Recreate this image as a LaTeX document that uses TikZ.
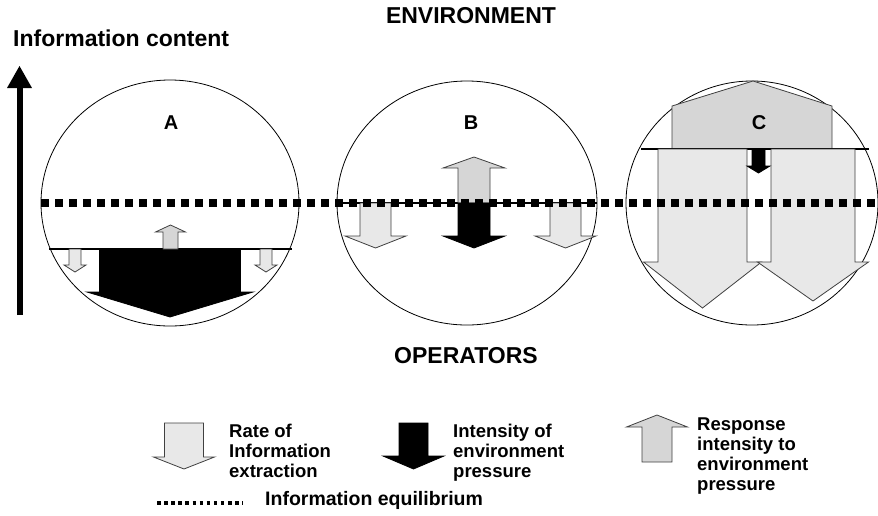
\documentclass[tikz,border=0pt]{standalone}
\usepackage{fontspec}
\setmainfont{Liberation Sans}
\usetikzlibrary{positioning}

% block arrow: style, centre x, base y, shaft half width, shaft end y, head half width, tip y
\newcommand{\blockarrow}[7]{%
  \draw[#1] ({#2-#4},#3) -- ({#2-#4},#5) -- ({#2-#6},#5) -- (#2,#7)
    -- ({#2+#6},#5) -- ({#2+#4},#5) -- ({#2+#4},#3) -- cycle;}

\begin{document}
\begin{tikzpicture}[x=1pt, y=-1pt,
    extract/.style={draw=black!75, line width=0.8pt, fill=black!9},
    pressure/.style={draw=black, line width=0.8pt, fill=black},
    response/.style={draw=black!75, line width=0.8pt, fill=black!16},
    equil/.style={line width=8pt, dash pattern=on 8pt off 6pt},
    headtext/.style={font=\bfseries\fontsize{23}{27}\selectfont, inner sep=0pt},
    legtext/.style={font=\bfseries\fontsize{18.5}{20}\selectfont, align=left, anchor=north west, inner sep=0pt}]
    \useasboundingbox (0,0) rectangle (878,515);

    % Titles
    \node[headtext, anchor=base] (env) at (471,23) {ENVIRONMENT};
    \node[headtext, anchor=base west] (infc) at (13,46) {Information content};
    \node[headtext, anchor=base] (ops) at (466,363) {OPERATORS};

    % Vertical axis
    \draw[line width=6pt] (19.5,315) -- (19.5,84);
    \fill (7,88) -- (19.5,66) -- (32,88) -- cycle;

    % Circle A
    \draw[line width=0.8pt] (170,203) ellipse [x radius=129, y radius=123];
    \node[headtext, font=\bfseries\fontsize{20}{24}\selectfont] (labA) at (171,123) {A};
    \draw[line width=2pt] (49,249) -- (292,249);
    \blockarrow{pressure}{170}{249}{70.5}{292}{83}{317}
    \blockarrow{response}{170.5}{249}{7.5}{232}{15}{225}
    \blockarrow{extract}{75}{249}{6}{265}{11}{272}
    \blockarrow{extract}{266}{249}{6}{265}{11}{272}

    % Circle B
    \draw[line width=0.8pt] (467,203) ellipse [x radius=130, y radius=122];
    \node[headtext, font=\bfseries\fontsize{20}{24}\selectfont] (labB) at (471,123) {B};
    \draw[line width=2pt] (337,203) -- (597,203);
    \blockarrow{response}{474}{203}{16}{168}{31}{157}
    \blockarrow{pressure}{474}{203}{16}{236}{31}{248}
    \blockarrow{extract}{375.5}{203}{15.5}{236}{30.5}{248}
    \blockarrow{extract}{565.5}{203}{15.5}{236}{30.5}{248}

    % Circle C
    \draw[line width=0.8pt] (752,203) ellipse [x radius=126, y radius=122];
    \draw[response] (672,149) -- (672,106) -- (753,81) -- (832,106) -- (832,149) -- cycle;
    \node[headtext, font=\bfseries\fontsize{20}{24}\selectfont] (labC) at (759,123) {C};
    \draw[line width=2pt] (641,149) -- (869,149);
    \blockarrow{extract}{702.5}{149}{44.5}{262}{59}{308}
    \blockarrow{extract}{813}{149}{42}{262}{55.5}{301}
    \blockarrow{pressure}{758.5}{149}{6.5}{166}{11.5}{173}

    % Equilibrium line
    \draw[equil] (41,203) -- (878,203);

    % Legend
    \blockarrow{extract}{184}{423}{19.5}{457}{30.5}{469}
    \node[legtext] (lgext) at (229,423.5) {Rate of\\Information\\extraction};
    \blockarrow{pressure}{413.5}{423}{14.5}{456}{30.5}{469}
    \node[legtext] (lgprs) at (453,423.5) {Intensity of\\environment\\pressure};
    \blockarrow{response}{657}{462}{15}{427}{30.5}{415}
    \node[legtext] (lgrsp) at (697,417.5) {Response\\intensity to\\environment\\pressure};
    \draw[line width=3.5pt, dash pattern=on 3.5pt off 3.6pt] (157,503) -- (243,503);
    \node[headtext, font=\bfseries\fontsize{19.5}{22}\selectfont, anchor=base west] (lgeq) at (265,505) {Information equilibrium};
\end{tikzpicture}
\end{document}
